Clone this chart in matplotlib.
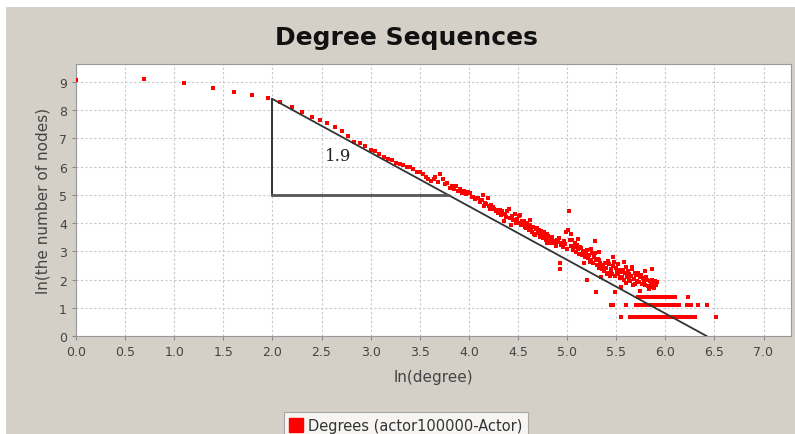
import matplotlib.pyplot as plt
from matplotlib.lines import Line2D
from matplotlib.patches import Rectangle

# degree distribution: ln(degree) vs ln(number of nodes)
ln_degree = [
    0.0, 0.69, 1.10, 1.39, 1.61, 1.79, 1.95, 2.08, 2.20, 2.30, 2.40, 2.48, 2.56, 2.64,
    2.71, 2.77, 2.83, 2.89, 2.94, 3.00, 3.04, 3.09, 3.14, 3.18, 3.22, 3.26, 3.30, 3.33,
    3.37, 3.40, 3.43, 3.47, 3.50, 3.53, 3.56, 3.58, 3.61, 3.64, 3.66, 3.69, 3.71, 3.74,
    3.76, 3.78, 3.81, 3.83, 3.85, 3.87, 3.89, 3.91, 3.93, 3.95, 3.97, 3.99, 4.01, 4.03,
    4.04, 4.06, 4.08, 4.09, 4.11, 4.13, 4.14, 4.16, 4.17, 4.19, 4.20, 4.22, 4.23, 4.25,
    4.26, 4.28, 4.29, 4.30, 4.32, 4.33, 4.34, 4.36, 4.37, 4.38, 4.39, 4.41, 4.42, 4.43,
    4.44, 4.45, 4.47, 4.48, 4.49, 4.50, 4.51, 4.52, 4.53, 4.54, 4.55, 4.56, 4.57, 4.58,
    4.59, 4.60, 4.61, 4.62, 4.63, 4.64, 4.65, 4.66, 4.67, 4.68, 4.69, 4.70, 4.71, 4.72,
    4.73, 4.74, 4.75, 4.76, 4.77, 4.78, 4.79, 4.80, 4.81, 4.82, 4.83, 4.84, 4.85, 4.86,
    4.87, 4.88, 4.89, 4.90, 4.91, 4.92, 4.93, 4.93, 4.94, 4.95, 4.96, 4.97, 4.98, 4.99,
    5.00, 5.01, 5.02, 5.03, 5.04, 5.05, 5.06, 5.07, 5.08, 5.09, 5.10, 5.11, 5.12, 5.13,
    5.14, 5.15, 5.16, 5.17, 5.17, 5.18, 5.19, 5.20, 5.20, 5.21, 5.22, 5.23, 5.24, 5.25,
    5.26, 5.27, 5.28, 5.28, 5.29, 5.29, 5.30, 5.31, 5.32, 5.33, 5.34, 5.35, 5.35, 5.36,
    5.37, 5.38, 5.39, 5.40, 5.41, 5.42, 5.42, 5.43, 5.44, 5.45, 5.45, 5.46, 5.47, 5.48,
    5.49, 5.49, 5.50, 5.51, 5.52, 5.53, 5.54, 5.55, 5.55, 5.56, 5.57, 5.58, 5.59, 5.60,
    5.60, 5.61, 5.62, 5.63, 5.63, 5.64, 5.65, 5.66, 5.67, 5.68, 5.69, 5.69, 5.70, 5.71,
    5.72, 5.73, 5.74, 5.75, 5.76, 5.77, 5.78, 5.79, 5.80, 5.81, 5.82, 5.83, 5.84, 5.85,
    5.86, 5.87, 5.88, 5.89, 5.90, 5.91, 5.92,
    # scattered extras
    4.15, 4.62, 4.80, 5.04, 5.11, 5.24, 5.33, 5.47, 5.52, 5.58, 5.66, 5.74, 5.79, 5.86,
    # row at ln(4)
    5.72, 5.74, 5.76, 5.78, 5.80, 5.82, 5.84, 5.86, 5.88, 5.90, 5.92, 5.94, 5.96, 5.98,
    6.00, 6.02, 6.04, 6.06, 6.08, 6.10, 6.23,
    # row at ln(3)
    5.45, 5.47, 5.60, 5.70, 5.72, 5.74, 5.76, 5.78, 5.80, 5.82, 5.84, 5.86, 5.88, 5.90,
    5.92, 5.94, 5.96, 5.98, 6.00, 6.02, 6.04, 6.06, 6.08, 6.10, 6.12, 6.14, 6.22, 6.26,
    6.33, 6.42,
    # row at ln(2)
    5.55, 5.64, 5.66, 5.68, 5.70, 5.72, 5.74, 5.76, 5.78, 5.80, 5.82, 5.84, 5.86, 5.88,
    5.90, 5.92, 5.94, 5.96, 5.98, 6.00, 6.02, 6.04, 6.06, 6.08, 6.10, 6.12, 6.14, 6.16,
    6.18, 6.20, 6.23, 6.27, 6.30, 6.52,
]
ln_nodes = [
    9.07, 9.10, 8.96, 8.78, 8.66, 8.55, 8.42, 8.29, 8.11, 7.93, 7.76, 7.64, 7.54, 7.42,
    7.26, 7.10, 6.87, 6.83, 6.75, 6.60, 6.54, 6.45, 6.36, 6.28, 6.25, 6.12, 6.10, 6.06,
    6.00, 5.98, 5.92, 5.80, 5.81, 5.74, 5.62, 5.57, 5.51, 5.56, 5.63, 5.45, 5.75, 5.56,
    5.38, 5.42, 5.25, 5.30, 5.22, 5.31, 5.15, 5.20, 5.08, 5.13, 5.02, 5.10, 5.06, 4.92,
    4.94, 4.85, 4.88, 4.90, 4.75, 4.83, 5.00, 4.70, 4.69, 4.88, 4.62, 4.50, 4.66, 4.58,
    4.50, 4.42, 4.46, 4.36, 4.48, 4.30, 4.44, 4.06, 4.32, 4.22, 4.42, 4.50, 4.18, 3.94,
    4.24, 4.10, 4.31, 4.02, 4.14, 4.00, 4.25, 4.30, 3.94, 4.08, 3.98, 4.06, 3.88, 3.82,
    4.00, 3.90, 3.76, 3.94, 3.84, 3.70, 3.88, 3.62, 3.58, 3.80, 3.81, 3.66, 3.76, 3.52,
    3.72, 3.60, 3.48, 3.69, 3.52, 3.58, 3.40, 3.62, 3.56, 3.30, 3.44, 3.40, 3.50, 3.28,
    3.29, 3.38, 3.20, 3.42, 3.34, 3.46, 2.57, 2.39, 3.22, 3.30, 3.14, 3.35, 3.25, 3.70,
    3.10, 3.76, 4.42, 3.40, 3.18, 3.40, 3.05, 3.17, 3.30, 2.98, 3.22, 3.08, 2.92, 3.15,
    3.11, 2.86, 3.02, 2.57, 2.93, 2.80, 2.93, 1.98, 3.05, 2.75, 2.88, 2.62, 2.70, 2.95,
    2.58, 2.80, 2.93, 3.35, 2.69, 1.56, 2.50, 2.72, 2.42, 2.69, 2.60, 2.10, 2.48, 2.36,
    2.51, 2.30, 2.58, 2.40, 2.21, 2.66, 2.25, 2.55, 2.14, 2.38, 2.30, 2.20, 2.48, 2.63,
    1.56, 2.12, 2.40, 2.28, 2.18, 2.35, 2.05, 1.74, 2.26, 2.10, 2.33, 2.00, 2.22, 1.88,
    2.45, 2.08, 2.30, 1.98, 2.18, 1.94, 2.12, 2.39, 1.80, 2.02, 2.25, 1.86, 2.15, 1.95,
    2.22, 1.90, 2.10, 2.15, 1.85, 2.05, 1.92, 1.80, 2.08, 1.98, 1.76, 1.68, 1.95, 1.82,
    2.00, 1.75, 1.88, 1.70, 1.94, 1.80, 1.92,
    4.62, 4.10, 3.30, 3.60, 3.45, 3.10, 2.98, 2.80, 2.55, 2.62, 2.45, 1.60, 2.32, 2.38,
    1.39, 1.39, 1.39, 1.39, 1.39, 1.39, 1.39, 1.39, 1.39, 1.39, 1.39, 1.39, 1.39, 1.39,
    1.39, 1.39, 1.39, 1.39, 1.39, 1.39, 1.39,
    1.10, 1.10, 1.10, 1.10, 1.10, 1.10, 1.10, 1.10, 1.10, 1.10, 1.10, 1.10, 1.10, 1.10,
    1.10, 1.10, 1.10, 1.10, 1.10, 1.10, 1.10, 1.10, 1.10, 1.10, 1.10, 1.10, 1.10, 1.10,
    1.10, 1.10,
    0.69, 0.69, 0.69, 0.69, 0.69, 0.69, 0.69, 0.69, 0.69, 0.69, 0.69, 0.69, 0.69, 0.69,
    0.69, 0.69, 0.69, 0.69, 0.69, 0.69, 0.69, 0.69, 0.69, 0.69, 0.69, 0.69, 0.69, 0.69,
    0.69, 0.69, 0.69, 0.69, 0.69, 0.69,
]

# fitted slope line and the slope triangle
fit_x = [2.0, 6.42]
fit_y = [8.4, 0.0]
tri_vert_x = [2.0, 2.0]
tri_vert_y = [8.4, 5.0]
tri_horiz_x = [2.0, 3.79]
tri_horiz_y = [5.0, 5.0]
slope_label = "1.9"

x_ticks = [i * 0.5 for i in range(15)]
y_ticks = list(range(10))

BG = "#d4d0c8"

fig = plt.figure(figsize=(7.95, 4.35), dpi=100)
fig.patch.set_facecolor("white")
fig.patches.append(Rectangle((6 / 795, 0), 1, 1 - 8 / 435, transform=fig.transFigure,
                             facecolor=BG, edgecolor="none", zorder=-10))

ax = fig.add_axes([76 / 795, 1 - 337 / 435, (791 - 76) / 795, (337 - 65) / 435])
ax.set_facecolor("white")

ax.scatter(ln_degree, ln_nodes, s=5.5, marker="s", color="#ff0000", linewidths=0, zorder=3)
ax.plot(fit_x, fit_y, color="#333333", linewidth=1.3, zorder=4)
ax.plot(tri_vert_x, tri_vert_y, color="#333333", linewidth=1.4, zorder=4)
ax.plot(tri_horiz_x, tri_horiz_y, color="#555555", linewidth=2.0, zorder=4)
ax.text(2.67, 6.39, slope_label, family="DejaVu Serif", fontsize=12, color="#222222",
        ha="center", va="center", zorder=5)

ax.set_xlim(0, 7.28)
ax.set_ylim(0, 9.64)
ax.set_xticks(x_ticks)
ax.set_xticklabels([f"{t:.1f}" for t in x_ticks])
ax.set_yticks(y_ticks)
ax.grid(True, color="#c8c8c8", linestyle=(0, (2, 2)), linewidth=0.8)
ax.set_axisbelow(True)
for sp in ax.spines.values():
    sp.set_color("#999999")
ax.tick_params(colors="#888888", labelcolor="#444444", labelsize=9, length=3)

ax.set_xlabel("ln(degree)", fontsize=11, color="#444444", labelpad=8)
ax.set_ylabel("ln(the number of nodes)", fontsize=11, color="#444444", labelpad=6)

fig.text(406 / 795, 1 - 38 / 435, "Degree Sequences", fontsize=18, fontweight="bold",
         ha="center", va="center", color="#111111")

handle = Line2D([], [], marker="s", linestyle="none", color="#ff0000", markersize=10)
leg = fig.legend([handle], ["Degrees (actor100000-Actor)"], loc="upper center",
                 bbox_to_anchor=(406 / 795, 1 - 406 / 435), fontsize=10.5, frameon=True,
                 fancybox=False, handlelength=0.8, handletextpad=0.4, borderpad=0.4)
leg.get_frame().set_edgecolor("#999999")
leg.get_frame().set_linewidth(0.8)
for t in leg.get_texts():
    t.set_color("#333333")

fig.savefig("out.png", dpi=100, facecolor=fig.get_facecolor())
